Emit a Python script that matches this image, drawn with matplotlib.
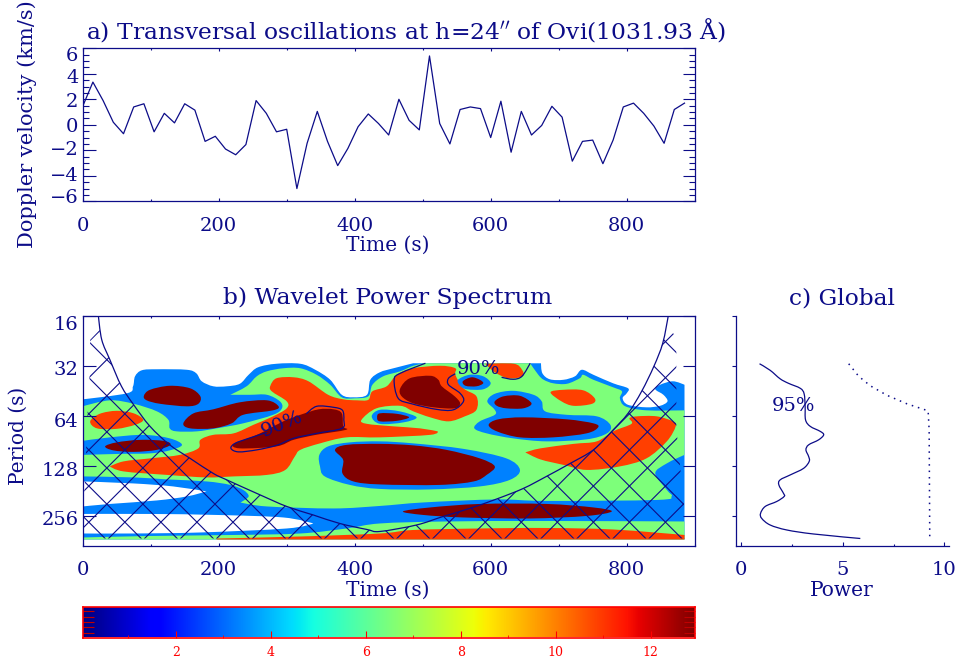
#!/usr/bin/python3
import numpy as np
import matplotlib
matplotlib.use('Agg')
import matplotlib.pyplot as plt
from matplotlib.path import Path
from matplotlib.patches import PathPatch, Polygon
from matplotlib.ticker import MultipleLocator, NullFormatter, NullLocator
from matplotlib.transforms import ScaledTranslation

plt.rcParams['font.family'] = ['DejaVu Serif']
plt.rcParams['mathtext.fontset'] = 'dejavuserif'

NAVY = '#0c0c88'
W, H = 958, 664

# a) doppler velocity, one sample every 15 s
velocity = [1.45, 3.35, 1.9, 0.2, -0.7, 1.4, 1.65, -0.55, 0.9, 0.15,
            1.65, 1.15, -1.3, -0.9, -1.9, -2.35, -1.55, 1.9, 0.9, -0.55,
            -0.35, -5.0, -1.45, 1.05, -1.3, -3.2, -1.85, -0.15, 0.85, 0.1,
            -0.8, 2.0, 0.35, -0.4, 5.4, 0.1, -1.5, 1.2, 1.4, 1.27,
            -1.0, 1.85, -2.15, 1.05, -0.8, -0.05, 1.45, 0.6, -2.85, -1.3,
            -1.2, -3.05, -1.2, 1.4, 1.7, 0.9, -0.1, -1.45, 1.2, 1.7]
time_step = 15

# b) wavelet power contours: time (s) and log2(period)
# a repeated point is a sharp corner
blue_t = [0, 0, 65, 74, 77, 87, 109, 153, 167, 175, 192, 212, 231, 244, 258, 285, 320, 342, 364, 381, 398, 418,
          423, 437, 457, 486, 486, 674, 674, 676, 687, 707, 724, 734, 751, 780, 802, 800, 794, 802, 829, 849, 860,
          854, 842, 849, 868, 885, 885, 885, 885, 0, 0]
blue_o = [5.67, 5.67, 5.55, 5.41, 5.21, 5.09, 5.07, 5.08, 5.15, 5.31, 5.41, 5.41, 5.36, 5.18, 5.03, 4.96, 4.96, 5.08,
          5.28, 5.58, 5.63, 5.58, 5.28, 5.13, 5.05, 4.95, 4.95, 4.95, 4.95, 5.15, 5.27, 5.28, 5.21, 5.08, 5.18, 5.35,
          5.45, 5.55, 5.65, 5.78, 5.83, 5.8, 5.71, 5.58, 5.47, 5.38, 5.31, 5.38, 5.38, 8.47, 8.47, 8.47, 8.47]

white1_t = [0, 0, 74, 133, 182, 182, 153, 109, 40, 0, 0]
white1_o = [7.31, 7.31, 7.35, 7.41, 7.51, 7.51, 7.61, 7.69, 7.76, 7.81, 7.81]
white2_t = [0, 0, 99, 197, 295, 339, 339, 300, 172, 74, 0, 0]
white2_o = [7.96, 7.96, 7.96, 7.98, 8.03, 8.15, 8.15, 8.25, 8.33, 8.35, 8.35, 8.35]

green_t = [0, 0, 40, 75, 109, 126, 128, 138, 168, 197, 236, 280, 293, 290, 271, 246, 217, 217, 241, 256, 271, 295,
           320, 344, 364, 381, 400, 420, 426, 442, 467, 486, 503, 503, 658, 658, 670, 678, 692, 712, 731, 736, 751,
           780, 793, 790, 798, 829, 885, 885, 885, 885, 859, 842, 859, 866, 844, 682, 609, 501, 437, 369, 271, 232,
           232, 244, 236, 217, 182, 124, 75, 0, 0]
green_o = [5.81, 5.81, 5.69, 5.76, 5.91, 6.08, 6.25, 6.31, 6.31, 6.25, 6.15, 5.98, 5.85, 5.71, 5.58, 5.58, 5.58, 5.58,
           5.41, 5.21, 5.11, 5.05, 5.05, 5.18, 5.38, 5.63, 5.65, 5.61, 5.38, 5.21, 5.11, 5.0, 4.95, 4.95, 4.95, 4.95,
           5.18, 5.28, 5.35, 5.36, 5.25, 5.18, 5.28, 5.43, 5.51, 5.65, 5.81, 5.89, 5.89, 5.89, 6.78, 6.78, 6.95, 7.15,
           7.48, 7.61, 7.68, 7.70, 7.67, 7.73, 7.80, 7.85, 7.81, 7.73, 7.73, 7.61, 7.48, 7.38, 7.31, 7.27, 7.23, 7.21,
           7.21]
green2_t = [0, 0, 99, 222, 320, 388, 437, 535, 682, 885, 885, 885, 885, 0, 0]
green2_o = [8.43, 8.43, 8.40, 8.38, 8.35, 8.25, 8.15, 8.11, 8.10, 8.11, 8.11, 8.47, 8.47, 8.47, 8.47]

orange1_t = [11, 25, 50, 75, 89, 77, 50, 21]
orange1_o = [6.11, 5.96, 5.90, 5.95, 6.08, 6.18, 6.26, 6.25]
orange2_t = [276, 285, 310, 332, 361, 383, 403, 420, 426, 447, 462, 486, 525, 548, 548, 560, 579, 579, 562, 538, 511,
             486, 467, 432, 410, 418, 457, 496, 522, 522, 511, 437, 388, 349, 320, 312, 298, 271, 222, 182, 124, 60,
             40, 40, 60, 99, 143, 170, 173, 192, 222, 251, 280, 300, 300, 278]
orange2_o = [5.40, 5.25, 5.23, 5.31, 5.58, 5.67, 5.69, 5.68, 5.51, 5.41, 5.18, 5.05, 5.00, 5.05, 5.18, 5.45, 5.61, 5.88,
             6.01, 6.11, 6.03, 5.91, 5.80, 5.85, 6.08, 6.16, 6.21, 6.25, 6.31, 6.31, 6.38, 6.43, 6.43, 6.55, 6.68, 6.81,
             7.08, 7.18, 7.21, 7.23, 7.18, 7.11, 7.01, 7.01, 6.91, 6.85, 6.78, 6.65, 6.48, 6.38, 6.35, 6.18, 6.01, 5.85,
             5.71, 5.51]
orange3_t = [592, 592, 634, 646, 647, 626, 606]
orange3_o = [4.96, 4.96, 4.96, 5.08, 5.21, 5.25, 5.13]
orange4_t = [688, 707, 736, 753, 749, 722, 704]
orange4_o = [5.53, 5.48, 5.49, 5.65, 5.76, 5.80, 5.71]
orange5_t = [651, 651, 673, 722, 756, 780, 807, 804, 815, 844, 868, 872, 859, 829, 790, 741, 707, 673]
orange5_o = [6.73, 6.73, 6.65, 6.56, 6.51, 6.31, 6.16, 6.05, 6.01, 6.01, 6.11, 6.21, 6.51, 6.85, 7.01, 7.08, 6.98, 6.87]
orange6_t = [197, 197, 320, 437, 486, 584, 682, 780, 885, 885, 885, 885, 197, 197]
orange6_o = [8.45, 8.45, 8.41, 8.35, 8.28, 8.25, 8.24, 8.27, 8.38, 8.38, 8.47, 8.47, 8.47, 8.47]

island1_t = [0, 0, 40, 89, 128, 146, 128, 99, 55, 0, 0]
island1_o = [6.5, 6.5, 6.43, 6.38, 6.45, 6.58, 6.69, 6.75, 6.76, 6.78, 6.78]
island2_t = [425, 437, 466, 491, 472, 437]
island2_o = [6.01, 5.88, 5.91, 6.03, 6.13, 6.16]
island3_t = [552, 569, 589, 600, 589, 565, 555]
island3_o = [5.28, 5.18, 5.21, 5.35, 5.47, 5.47, 5.40]
island4_t = [595, 606, 633, 663, 675, 680, 712, 756, 776, 771, 741, 682, 633, 594, 576, 584, 606, 606]
island4_o = [5.71, 5.56, 5.50, 5.58, 5.71, 5.91, 5.98, 6.01, 6.18, 6.35, 6.47, 6.51, 6.45, 6.35, 6.25, 6.11, 5.98, 5.88]
island5_t = [348, 361, 393, 437, 486, 560, 623, 643, 628, 584, 511, 437, 393, 356, 349]
island5_o = [6.78, 6.61, 6.53, 6.51, 6.55, 6.66, 6.85, 7.08, 7.28, 7.41, 7.47, 7.46, 7.38, 7.21, 7.01]

dark1_t = [90, 99, 128, 158, 173, 170, 153, 114, 94]
dark1_o = [5.60, 5.48, 5.40, 5.45, 5.61, 5.76, 5.81, 5.76, 5.69]
dark2_t = [148, 163, 192, 231, 271, 288, 280, 236, 219, 192, 158]
dark2_o = [6.15, 5.95, 5.87, 5.73, 5.69, 5.81, 5.89, 5.98, 6.15, 6.25, 6.25]
dark3_t = [222, 251, 271, 295, 320, 347, 369, 381, 383, 387, 343, 310, 285, 231]
dark3_o = [6.56, 6.41, 6.28, 6.11, 5.98, 5.87, 5.87, 5.95, 6.21, 6.28, 6.38, 6.48, 6.61, 6.65]
dark4_t = [33, 50, 84, 119, 129, 109, 75, 45]
dark4_o = [6.61, 6.53, 6.48, 6.50, 6.58, 6.68, 6.72, 6.69]
dark5_t = [371, 388, 437, 486, 535, 584, 606, 594, 575, 525, 437, 398, 382, 383]
dark5_o = [6.68, 6.58, 6.56, 6.59, 6.68, 6.85, 7.01, 7.18, 7.31, 7.38, 7.37, 7.31, 7.15, 6.88]
dark6_t = [433, 437, 462, 480, 462, 437]
dark6_o = [6.03, 5.95, 5.96, 6.03, 6.10, 6.11]
dark7_t = [559, 572, 584, 589, 579, 563]
dark7_o = [5.31, 5.23, 5.28, 5.35, 5.41, 5.40]
dark8_t = [606, 619, 643, 660, 648, 623, 609]
dark8_o = [5.71, 5.61, 5.60, 5.75, 5.85, 5.85, 5.80]
dark9_t = [597, 611, 648, 712, 751, 758, 741, 692, 643, 609]
dark9_o = [6.18, 6.07, 6.03, 6.07, 6.15, 6.23, 6.35, 6.43, 6.43, 6.31]
dark10_t = [467, 481, 511, 523, 528, 547, 555, 547, 516, 486, 469]
dark10_o = [5.45, 5.25, 5.20, 5.28, 5.41, 5.61, 5.75, 5.85, 5.83, 5.75, 5.61]
dark11_t = [471, 511, 584, 682, 751, 778, 741, 658, 560, 501]
dark11_o = [7.91, 7.83, 7.76, 7.76, 7.83, 7.91, 8.0, 8.05, 8.03, 7.98]

# 90% significance contours
sig1_t = [271, 244, 224, 218, 229, 256, 285, 310, 344, 381, 384, 382, 369, 344, 329]
sig1_o = [6.33, 6.45, 6.55, 6.65, 6.72, 6.68, 6.59, 6.45, 6.35, 6.25, 6.08, 5.89, 5.83, 5.81, 5.96]
sig2_t = [504, 467, 458, 464, 484, 520, 545, 560, 555, 538, 538, 548]
sig2_o = [4.95, 5.15, 5.28, 5.65, 5.76, 5.87, 5.88, 5.71, 5.55, 5.38, 5.25, 5.16]
sig3_t = [616, 633, 646, 658]
sig3_o = [5.23, 5.27, 5.21, 4.95]

# cone of influence
coi_t = [23, 28, 40, 57, 75, 99, 128, 158, 192, 212, 261, 300, 339, 378, 418, 437,
         491, 530, 569, 609, 648, 682, 717, 751, 778, 802, 822, 840, 853, 861]
coi_o = [3.99, 4.48, 4.88, 5.41, 5.78, 6.21, 6.58, 6.85, 7.15, 7.28, 7.58, 7.81, 7.98, 8.15, 8.27, 8.31,
         8.18, 8.01, 7.85, 7.66, 7.45, 7.21, 6.95, 6.68, 6.31, 5.95, 5.51, 5.01, 4.55, 4.01]
hatch_left_t = [0, 0, 5, 7, 10, 11, 25]
hatch_left_o = [8.45, 8.27, 6.68, 5.98, 5.25, 4.48, 4.28]
hatch_right_t = [858, 873, 873, 884, 885]
hatch_right_o = [4.25, 4.4, 6.25, 7.75, 8.45]

# c) global wavelet spectrum
global_power = [0.92, 1.44, 1.93, 2.34, 2.92, 3.11, 3.16, 3.18, 3.41, 3.90, 4.07, 3.82, 3.33, 3.20, 3.33,
                3.36, 3.08, 2.43, 1.93, 1.87, 2.10, 2.13, 1.77, 1.20, 0.97, 1.03, 1.44, 2.26, 3.57, 5.87]
global_o = [4.96, 5.09, 5.26, 5.35, 5.45, 5.56, 5.81, 6.08, 6.21, 6.31, 6.38, 6.48, 6.58, 6.68, 6.81,
            6.91, 7.05, 7.18, 7.28, 7.38, 7.55, 7.61, 7.71, 7.81, 7.95, 8.05, 8.18, 8.28, 8.36, 8.45]
signif_power = [5.30, 5.79, 6.36, 7.18, 8.16, 9.2, 9.25, 9.28]
signif_o = [4.96, 5.21, 5.40, 5.59, 5.76, 5.90, 6.28, 8.45]

bar_min, bar_max = 0.04, 12.93
period_ticks = [16, 32, 64, 128, 256]

jet = plt.cm.jet
BLUE, GREEN, ORANGE, DARK = jet(0.25), jet(0.5), jet(0.84), jet(1.0)

layers = [(blue_t, blue_o, BLUE), (white1_t, white1_o, 'white'), (white2_t, white2_o, 'white'),
          (green_t, green_o, GREEN), (green2_t, green2_o, GREEN),
          (orange1_t, orange1_o, ORANGE), (orange2_t, orange2_o, ORANGE), (orange3_t, orange3_o, ORANGE),
          (orange4_t, orange4_o, ORANGE), (orange5_t, orange5_o, ORANGE), (orange6_t, orange6_o, ORANGE),
          (island1_t, island1_o, BLUE), (island2_t, island2_o, BLUE), (island3_t, island3_o, BLUE),
          (island4_t, island4_o, BLUE), (island5_t, island5_o, BLUE),
          (dark1_t, dark1_o, DARK), (dark2_t, dark2_o, DARK), (dark3_t, dark3_o, DARK), (dark4_t, dark4_o, DARK),
          (dark5_t, dark5_o, DARK), (dark6_t, dark6_o, DARK), (dark7_t, dark7_o, DARK), (dark8_t, dark8_o, DARK),
          (dark9_t, dark9_o, DARK), (dark10_t, dark10_o, DARK), (dark11_t, dark11_o, DARK)]


def axes_px(fig, x0, y0, x1, y1):
    return fig.add_axes([x0 / W, 1 - y1 / H, (x1 - x0) / W, (y1 - y0) / H])


def curve(xx, oo, closed):
    # bezier path going through the listed points, y goes in as log2(period)
    pts = np.column_stack([xx, oo]).astype(float)
    n = len(pts)
    m = np.zeros_like(pts)
    for i in range(n):
        if not closed and i in (0, n - 1):
            continue
        a, b = pts[(i - 1) % n], pts[(i + 1) % n]
        if np.allclose(a, pts[i]) or np.allclose(b, pts[i]):
            continue
        m[i] = (b - a) / 6
    verts = [pts[0]]
    codes = [Path.MOVETO]
    for i in range(n if closed else n - 1):
        j = (i + 1) % n
        verts += [pts[i] + m[i], pts[j] - m[j], pts[j]]
        codes += [Path.CURVE4] * 3
    verts = np.array(verts)
    verts[:, 1] = 2.0 ** verts[:, 1]
    return Path(verts, codes)


def blob(ax, tt, oo, color):
    ax.add_patch(PathPatch(curve(tt, oo, True), fc=color, ec='none', lw=0))


def contour_line(ax, xx, oo):
    ax.add_patch(PathPatch(curve(xx, oo, False), fc='none', ec=NAVY, lw=0.9))


def style(ax):
    for s in ax.spines.values():
        s.set_color(NAVY)
        s.set_linewidth(0.9)
    ax.tick_params(which='both', colors=NAVY, labelcolor=NAVY, labelsize=14, direction='in',
                   top=True, right=True, width=0.8)
    ax.tick_params(axis='x', which='major', length=2.5, pad=11)
    ax.tick_params(axis='x', which='minor', length=1.5)
    ax.tick_params(axis='y', which='major', length=9, pad=3)
    ax.tick_params(axis='y', which='minor', length=4.5)
    ax.set_xlim(0, 900)
    ax.xaxis.set_major_locator(MultipleLocator(200))
    ax.xaxis.set_minor_locator(MultipleLocator(100))


def shift_labels(fig, labels, shifts):
    for lab, dy in zip(labels, shifts):
        lab.set_transform(lab.get_transform() + ScaledTranslation(0, -dy / 100, fig.dpi_scale_trans))


def label(fig, x, y, s, size=14.5, rotation=0, color=NAVY):
    fig.text(x / W, 1 - y / H, s, fontsize=size, color=color, rotation=rotation, ha='center', va='center')


fig = plt.figure(figsize=(9.58, 6.64), dpi=100)

# a) time series
ax_a = axes_px(fig, 82.7, 48.3, 694.7, 201.3)
style(ax_a)
ax_a.plot(np.arange(len(velocity)) * time_step, velocity, color=NAVY, lw=0.9)
ax_a.set_ylim(-6, 6)
ax_a.yaxis.set_major_locator(MultipleLocator(2))
ax_a.yaxis.set_minor_locator(MultipleLocator(0.5))
ax_a.set_yticks(np.arange(-6, 7, 2))
shift_labels(fig, ax_a.get_yticklabels(), [-5, -2, -2, 0, 1, 2, 6])
label(fig, 406, 30, "a) Transversal oscillations at h=24$''$ of Ovi(1031.93 Å)", size=16.8)
label(fig, 27, 124, 'Doppler velocity (km/s)', size=15)
fig.texts[-1].set_rotation(90)
label(fig, 388, 245, 'Time (s)')

# b) wavelet
ax_b = axes_px(fig, 82.7, 315.7, 694.7, 545.7)
style(ax_b)
ax_b.set_yscale('log', base=2)
ax_b.set_ylim(2 ** 8.594, 16)
for tt, oo, col in layers:
    blob(ax_b, tt, oo, col)
ax_b.set_yticks(period_ticks)
ax_b.set_yticklabels([str(p) for p in period_ticks])
ax_b.yaxis.set_minor_locator(NullLocator())
ax_b.yaxis.set_minor_formatter(NullFormatter())
shift_labels(fig, ax_b.get_yticklabels(), [7, 2, 4, 3, 2])
for tt, oo in [(sig1_t, sig1_o), (sig2_t, sig2_o), (sig3_t, sig3_o), (coi_t, coi_o)]:
    contour_line(ax_b, tt, oo)
ax_b.text(293, 2 ** 6.16, '90%', color=NAVY, fontsize=14, rotation=22, ha='center', va='center')
ax_b.text(582, 2 ** 5.06, '90%', color=NAVY, fontsize=14, ha='center', va='center')

# hatch inside the cone of influence, 45 degree lines clipped to it
coi_inside = [(t, 2.0 ** o) for t, o in zip(coi_t, coi_o) if o > 4.3]
hatch_verts = [(t, 2.0 ** o) for t, o in zip(hatch_left_t, hatch_left_o)] + coi_inside + \
              [(t, 2.0 ** o) for t, o in zip(hatch_right_t, hatch_right_o)]
hatch_clip = Polygon(hatch_verts, closed=True, transform=ax_b.transData)
octaves = np.array([3.9, 8.45])
rise = (8.45 - octaves) * 73.5
for t0 in 33 + 53 * np.arange(0, 24):
    ln, = ax_b.plot(t0 - rise, 2.0 ** octaves, color=NAVY, lw=0.8, scalex=False, scaley=False)
    ln.set_clip_path(hatch_clip)
for t0 in 38 + 53 * np.arange(-7, 17):
    ln, = ax_b.plot(t0 + rise, 2.0 ** octaves, color=NAVY, lw=0.8, scalex=False, scaley=False)
    ln.set_clip_path(hatch_clip)
ax_b.set_xlim(0, 900)
ax_b.set_ylim(2 ** 8.594, 16)
label(fig, 388, 298, 'b) Wavelet Power Spectrum', size=16.8)
label(fig, 18, 436, 'Period (s)', rotation=90)
label(fig, 388, 590, 'Time (s)')

# c) global spectrum
ax_c = axes_px(fig, 735.7, 315.7, 949.3, 545.7)
for s in ['top', 'right']:
    ax_c.spines[s].set_visible(False)
for s in ['left', 'bottom']:
    ax_c.spines[s].set_color(NAVY)
    ax_c.spines[s].set_linewidth(0.9)
ax_c.set_yscale('log', base=2)
contour_line(ax_c, global_power, global_o)
ax_c.plot(signif_power, 2.0 ** np.array(signif_o), color=NAVY, lw=1.1, ls=(0, (1, 3.2)))
ax_c.set_xlim(-0.25, 10.24)
ax_c.set_ylim(2 ** 8.594, 16)
ax_c.set_yticks(period_ticks)
ax_c.set_yticklabels([])
ax_c.yaxis.set_minor_locator(NullLocator())
ax_c.yaxis.set_minor_formatter(NullFormatter())
ax_c.xaxis.set_major_locator(MultipleLocator(5))
ax_c.xaxis.set_minor_locator(MultipleLocator(2.5))
ax_c.tick_params(which='both', colors=NAVY, labelcolor=NAVY, labelsize=14, width=0.8)
ax_c.tick_params(axis='y', which='major', direction='out', length=3)
ax_c.tick_params(axis='x', which='major', direction='in', length=3, pad=11)
ax_c.tick_params(axis='x', which='minor', direction='in', length=1.5)
ax_c.text(2.6, 2 ** 5.81, '95%', color=NAVY, fontsize=14, ha='center', va='center')
label(fig, 842, 298, 'c) Global', size=16.8)
label(fig, 842, 590, 'Power')

# colour bar
ax_cb = axes_px(fig, 82.7, 606.5, 694.7, 637.5)
ax_cb.imshow(np.linspace(bar_min, bar_max, 256).reshape(1, -1), cmap='jet', aspect='auto',
             extent=[bar_min, bar_max, 0, 1], vmin=bar_min, vmax=bar_max)
for s in ax_cb.spines.values():
    s.set_color('red')
    s.set_linewidth(1.2)
ax_cb.xaxis.set_major_locator(MultipleLocator(2))
ax_cb.xaxis.set_minor_locator(MultipleLocator(1))
ax_cb.tick_params(axis='x', which='major', direction='in', color='red', labelcolor='red', labelsize=9,
                  length=5, pad=6)
ax_cb.tick_params(axis='x', which='minor', direction='in', color='red', length=2.5)
ax_cb.set_yticks([0.16, 0.33, 0.49, 0.67, 0.86])
ax_cb.set_yticklabels([])
ax_cb.tick_params(axis='y', direction='in', color='#c00000', length=8, left=True, right=True)

fig.savefig('out.png', dpi=100)
